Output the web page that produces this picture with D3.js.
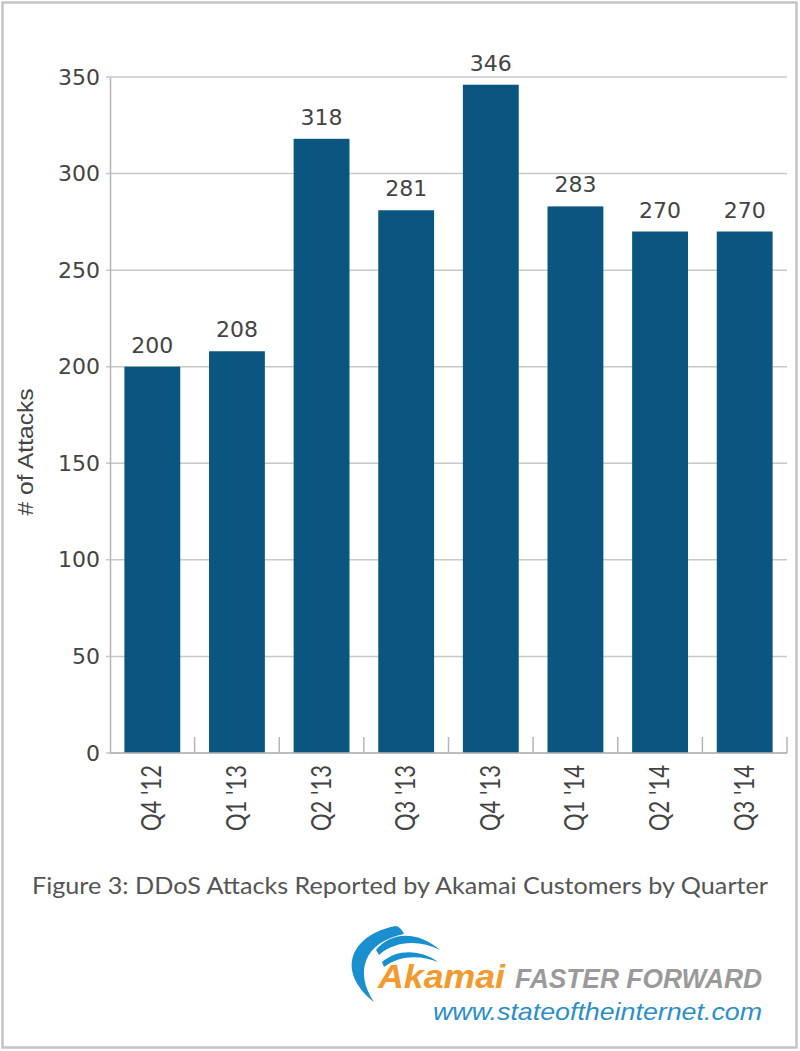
<!DOCTYPE html>
<html>
<head>
<meta charset="utf-8">
<script src="https://cdn.jsdelivr.net/npm/d3@7"></script>
<style>
  body { margin: 0; background: #fff; }
  svg { display: block; }
</style>
</head>
<body>
<div id="chart"></div>
<script>
// data
const quarters = ["Q4 '12", "Q1 '13", "Q2 '13", "Q3 '13", "Q4 '13", "Q1 '14", "Q2 '14", "Q3 '14"];
const attacks = [200, 208, 318, 281, 346, 283, 270, 270];
const yTicks = [0, 50, 100, 150, 200, 250, 300, 350];
const caption = "Figure 3: DDoS Attacks Reported by Akamai Customers by Quarter";

const W = 800, H = 1051;
const margin = { top: 77, right: 13, bottom: 298, left: 110 };
const width = W - margin.left - margin.right,
      height = H - margin.top - margin.bottom;

const svg = d3.select("#chart").append("svg")
    .attr("width", W)
    .attr("height", H);

// outer frame
svg.append("rect")
    .attr("x", 2.5).attr("y", 2.5)
    .attr("width", W - 6).attr("height", H - 6)
    .attr("fill", "none")
    .attr("stroke", "#c4c4c4")
    .attr("stroke-width", 2.5);

const g = svg.append("g")
    .attr("transform", "translate(" + margin.left + "," + margin.top + ")");

const x = d3.scaleBand()
    .domain(quarters)
    .range([0, width])
    .paddingInner(0.34)
    .paddingOuter(0.17);

const y = d3.scaleLinear()
    .domain([0, 350])
    .range([height, 0]);

// gridlines
g.append("g")
    .selectAll("line")
    .data(yTicks)
    .enter()
    .append("line")
    .attr("x1", -4).attr("x2", width)
    .attr("y1", d => y(d)).attr("y2", d => y(d))
    .attr("stroke", "#c8c8c8")
    .attr("stroke-width", 1.5);

// y axis
const yAxis = g.append("g")
    .call(d3.axisLeft(y).tickValues(yTicks).tickSize(0).tickPadding(10));
yAxis.select(".domain").attr("stroke", "#b5b5b5").attr("stroke-width", 1.5);
yAxis.selectAll("text")
    .attr("font-family", "DejaVu Sans")
    .attr("font-size", 22)
    .attr("fill", "#444");

// bars
g.selectAll(".bar")
    .data(attacks)
    .enter()
    .append("rect")
    .attr("class", "bar")
    .attr("x", (d, i) => x(quarters[i]))
    .attr("y", d => y(d))
    .attr("width", x.bandwidth())
    .attr("height", d => height - y(d))
    .attr("fill", "#0b5680");

// value labels
g.selectAll(".val")
    .data(attacks)
    .enter()
    .append("text")
    .attr("class", "val")
    .attr("x", (d, i) => x(quarters[i]) + x.bandwidth() / 2)
    .attr("y", d => y(d) - 14)
    .attr("text-anchor", "middle")
    .attr("font-family", "DejaVu Sans")
    .attr("font-size", 22)
    .attr("fill", "#444")
    .text(d => d);

// x axis: baseline and short separators between bars
g.append("line")
    .attr("x1", 0).attr("x2", width)
    .attr("y1", height).attr("y2", height)
    .attr("stroke", "#b5b5b5")
    .attr("stroke-width", 1.5);

const step = x.step();
g.append("g")
    .selectAll("line")
    .data(quarters)
    .enter()
    .append("line")
    .attr("x1", (d, i) => (i + 1) * step).attr("x2", (d, i) => (i + 1) * step)
    .attr("y1", height).attr("y2", height - 16)
    .attr("stroke", "#b5b5b5")
    .attr("stroke-width", 1.5);

g.append("g")
    .selectAll("text")
    .data(quarters)
    .enter()
    .append("text")
    .attr("transform", d => "translate(" + (x(d) + x.bandwidth() / 2 + 9) + "," + (height + 12) + ")rotate(-90)")
    .attr("text-anchor", "end")
    .attr("font-family", "Lato")
    .attr("font-size", 26)
    .attr("fill", "#444")
    .attr("textLength", 66)
    .attr("lengthAdjust", "spacingAndGlyphs")
    .text(d => d);

// y axis title
svg.append("text")
    .attr("transform", "translate(33,452)rotate(-90)")
    .attr("text-anchor", "middle")
    .attr("font-family", "Liberation Sans")
    .attr("font-size", 22)
    .attr("fill", "#444")
    .attr("textLength", 127)
    .attr("lengthAdjust", "spacingAndGlyphs")
    .text("# of Attacks");

// caption
svg.append("text")
    .attr("x", 32).attr("y", 894)
    .attr("font-family", "Lato")
    .attr("font-size", 23)
    .attr("fill", "#555")
    .attr("textLength", 736)
    .attr("lengthAdjust", "spacingAndGlyphs")
    .text(caption);

// logo
const logo = svg.append("g");
logo.append("path")
    .attr("d", "M396,926 C352,934 334,970 374,1002 C354,972 364,942 404,934 C402,930 400,927 396,926 Z")
    .attr("fill", "#1a8fd0");
logo.append("path")
    .attr("d", "M376,950 C392,930 420,932 440,950 C420,940 396,940 379,955 Z")
    .attr("fill", "#1a8fd0");
logo.append("path")
    .attr("d", "M382,962 C398,948 422,950 438,962 C420,955 400,955 384,967 Z")
    .attr("fill", "#1a8fd0");
logo.append("text")
    .attr("x", 378).attr("y", 988)
    .attr("font-family", "Liberation Sans")
    .attr("font-weight", "bold")
    .attr("font-style", "italic")
    .attr("font-size", 33)
    .attr("fill", "#f39a2e")
    .attr("textLength", 127)
    .attr("lengthAdjust", "spacingAndGlyphs")
    .text("Akamai");
logo.append("text")
    .attr("x", 515).attr("y", 988)
    .attr("font-family", "Liberation Sans")
    .attr("font-weight", "bold")
    .attr("font-style", "italic")
    .attr("font-size", 27)
    .attr("fill", "#9a9a9a")
    .attr("textLength", 247)
    .attr("lengthAdjust", "spacingAndGlyphs")
    .text("FASTER FORWARD");
logo.append("text")
    .attr("x", 433).attr("y", 1020)
    .attr("font-family", "Liberation Sans")
    .attr("font-style", "italic")
    .attr("font-size", 24)
    .attr("fill", "#2a8fcc")
    .attr("textLength", 329)
    .attr("lengthAdjust", "spacingAndGlyphs")
    .text("www.stateoftheinternet.com");
</script>
</body>
</html>
